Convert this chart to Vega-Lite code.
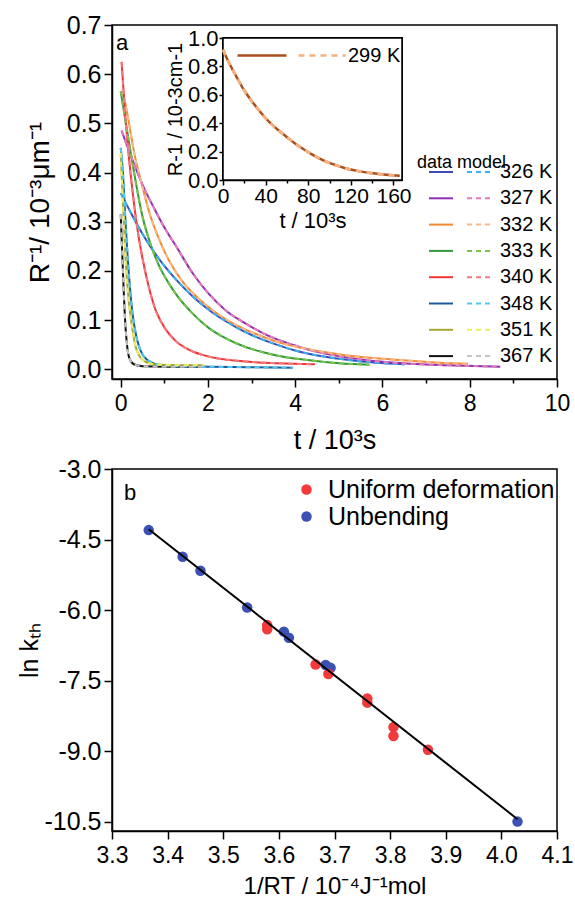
{
  "$schema": "https://vega.github.io/schema/vega-lite/v6.json",
  "background": "white",
  "padding": {"left": 16, "top": 12, "right": 0, "bottom": 0},
  "spacing": 2,
  "config": {
    "font": "Liberation Sans",
    "locale": {"number": {"decimal": ".", "thousands": ",", "grouping": [3], "currency": ["$", ""], "minus": "-"}},
    "view": {"stroke": "black", "strokeWidth": 1.5},
    "axis": {"domainColor": "black", "domainWidth": 1.5, "tickColor": "black", "tickWidth": 1.5, "labelColor": "black", "titleColor": "black", "labelFont": "Liberation Sans", "titleFont": "Liberation Sans", "titleFontWeight": "normal", "grid": false, "labelFontSize": 23, "titleFontSize": 26, "labelFlush": false, "labelOverlap": false},
    "legend": {"labelFont": "Liberation Sans", "titleFont": "Liberation Sans", "labelColor": "black", "titleColor": "black", "titleFontWeight": "normal", "padding": 0, "labelLimit": 400}
  },
  "datasets": {
    "curves": [
      {"T": "326 K", "t": 0, "v": 0.358}, {"T": "326 K", "t": 0.25, "v": 0.315}, {"T": "326 K", "t": 0.5, "v": 0.275}, {"T": "326 K", "t": 0.75, "v": 0.24}, {"T": "326 K", "t": 1.0, "v": 0.21}, {"T": "326 K", "t": 1.27, "v": 0.182}, {"T": "326 K", "t": 1.65, "v": 0.148}, {"T": "326 K", "t": 2.03, "v": 0.12}, {"T": "326 K", "t": 2.4, "v": 0.098}, {"T": "326 K", "t": 2.8, "v": 0.078}, {"T": "326 K", "t": 3.2, "v": 0.062}, {"T": "326 K", "t": 3.57, "v": 0.05}, {"T": "326 K", "t": 4.0, "v": 0.038}, {"T": "326 K", "t": 4.33, "v": 0.031}, {"T": "326 K", "t": 5.1, "v": 0.02}, {"T": "326 K", "t": 5.87, "v": 0.013}, {"T": "326 K", "t": 6.5, "v": 0.01},
      {"T": "327 K", "t": 0.02, "v": 0.485}, {"T": "327 K", "t": 0.25, "v": 0.43}, {"T": "327 K", "t": 0.5, "v": 0.375}, {"T": "327 K", "t": 0.75, "v": 0.33}, {"T": "327 K", "t": 1.0, "v": 0.288}, {"T": "327 K", "t": 1.27, "v": 0.25}, {"T": "327 K", "t": 1.65, "v": 0.195}, {"T": "327 K", "t": 2.03, "v": 0.152}, {"T": "327 K", "t": 2.4, "v": 0.12}, {"T": "327 K", "t": 2.8, "v": 0.096}, {"T": "327 K", "t": 3.2, "v": 0.076}, {"T": "327 K", "t": 3.57, "v": 0.061}, {"T": "327 K", "t": 4.0, "v": 0.048}, {"T": "327 K", "t": 4.33, "v": 0.039}, {"T": "327 K", "t": 5.1, "v": 0.025}, {"T": "327 K", "t": 5.87, "v": 0.016}, {"T": "327 K", "t": 6.63, "v": 0.011}, {"T": "327 K", "t": 7.5, "v": 0.008}, {"T": "327 K", "t": 8.7, "v": 0.005},
      {"T": "332 K", "t": 0.04, "v": 0.57}, {"T": "332 K", "t": 0.15, "v": 0.52}, {"T": "332 K", "t": 0.31, "v": 0.44}, {"T": "332 K", "t": 0.5, "v": 0.37}, {"T": "332 K", "t": 0.65, "v": 0.32}, {"T": "332 K", "t": 0.9, "v": 0.26}, {"T": "332 K", "t": 1.1, "v": 0.222}, {"T": "332 K", "t": 1.4, "v": 0.18}, {"T": "332 K", "t": 1.65, "v": 0.155}, {"T": "332 K", "t": 2.03, "v": 0.125}, {"T": "332 K", "t": 2.4, "v": 0.102}, {"T": "332 K", "t": 2.8, "v": 0.083}, {"T": "332 K", "t": 3.2, "v": 0.068}, {"T": "332 K", "t": 3.57, "v": 0.056}, {"T": "332 K", "t": 4.33, "v": 0.04}, {"T": "332 K", "t": 5.1, "v": 0.029}, {"T": "332 K", "t": 5.87, "v": 0.022}, {"T": "332 K", "t": 6.63, "v": 0.017}, {"T": "332 K", "t": 7.3, "v": 0.013}, {"T": "332 K", "t": 7.96, "v": 0.011},
      {"T": "333 K", "t": 0.0, "v": 0.565}, {"T": "333 K", "t": 0.1, "v": 0.51}, {"T": "333 K", "t": 0.23, "v": 0.44}, {"T": "333 K", "t": 0.5, "v": 0.31}, {"T": "333 K", "t": 0.7, "v": 0.25}, {"T": "333 K", "t": 0.88, "v": 0.21}, {"T": "333 K", "t": 1.1, "v": 0.175}, {"T": "333 K", "t": 1.27, "v": 0.152}, {"T": "333 K", "t": 1.65, "v": 0.113}, {"T": "333 K", "t": 2.03, "v": 0.083}, {"T": "333 K", "t": 2.4, "v": 0.063}, {"T": "333 K", "t": 2.8, "v": 0.047}, {"T": "333 K", "t": 3.2, "v": 0.036}, {"T": "333 K", "t": 3.57, "v": 0.028}, {"T": "333 K", "t": 4.33, "v": 0.018}, {"T": "333 K", "t": 5.0, "v": 0.012}, {"T": "333 K", "t": 5.7, "v": 0.009},
      {"T": "340 K", "t": 0.02, "v": 0.625}, {"T": "340 K", "t": 0.1, "v": 0.52}, {"T": "340 K", "t": 0.2, "v": 0.42}, {"T": "340 K", "t": 0.3, "v": 0.34}, {"T": "340 K", "t": 0.4, "v": 0.275}, {"T": "340 K", "t": 0.5, "v": 0.225}, {"T": "340 K", "t": 0.65, "v": 0.165}, {"T": "340 K", "t": 0.8, "v": 0.12}, {"T": "340 K", "t": 1.0, "v": 0.085}, {"T": "340 K", "t": 1.25, "v": 0.058}, {"T": "340 K", "t": 1.6, "v": 0.038}, {"T": "340 K", "t": 2.0, "v": 0.026}, {"T": "340 K", "t": 2.8, "v": 0.016}, {"T": "340 K", "t": 3.6, "v": 0.012}, {"T": "340 K", "t": 4.45, "v": 0.01},
      {"T": "348 K", "t": 0, "v": 0.45}, {"T": "348 K", "t": 0.05, "v": 0.4}, {"T": "348 K", "t": 0.11, "v": 0.3}, {"T": "348 K", "t": 0.19, "v": 0.19}, {"T": "348 K", "t": 0.27, "v": 0.114}, {"T": "348 K", "t": 0.35, "v": 0.07}, {"T": "348 K", "t": 0.42, "v": 0.046}, {"T": "348 K", "t": 0.5, "v": 0.03}, {"T": "348 K", "t": 0.57, "v": 0.022}, {"T": "348 K", "t": 0.7, "v": 0.014}, {"T": "348 K", "t": 0.88, "v": 0.009}, {"T": "348 K", "t": 1.3, "v": 0.006}, {"T": "348 K", "t": 2.0, "v": 0.005}, {"T": "348 K", "t": 3.0, "v": 0.004}, {"T": "348 K", "t": 3.95, "v": 0.003},
      {"T": "351 K", "t": 0, "v": 0.44}, {"T": "351 K", "t": 0.03, "v": 0.38}, {"T": "351 K", "t": 0.07, "v": 0.3}, {"T": "351 K", "t": 0.12, "v": 0.21}, {"T": "351 K", "t": 0.19, "v": 0.134}, {"T": "351 K", "t": 0.27, "v": 0.08}, {"T": "351 K", "t": 0.34, "v": 0.046}, {"T": "351 K", "t": 0.42, "v": 0.028}, {"T": "351 K", "t": 0.5, "v": 0.019}, {"T": "351 K", "t": 0.65, "v": 0.012}, {"T": "351 K", "t": 0.9, "v": 0.009}, {"T": "351 K", "t": 1.3, "v": 0.008}, {"T": "351 K", "t": 1.9, "v": 0.008},
      {"T": "367 K", "t": 0, "v": 0.315}, {"T": "367 K", "t": 0.05, "v": 0.2}, {"T": "367 K", "t": 0.1, "v": 0.1}, {"T": "367 K", "t": 0.15, "v": 0.045}, {"T": "367 K", "t": 0.2, "v": 0.022}, {"T": "367 K", "t": 0.3, "v": 0.01}, {"T": "367 K", "t": 0.5, "v": 0.006}, {"T": "367 K", "t": 1.0, "v": 0.005}, {"T": "367 K", "t": 1.87, "v": 0.005}
    ],
    "inset": [
      {"T": "299 K", "t": 0, "v": 0.918}, {"T": "299 K", "t": 6, "v": 0.82}, {"T": "299 K", "t": 12.4, "v": 0.73}, {"T": "299 K", "t": 20, "v": 0.63}, {"T": "299 K", "t": 28, "v": 0.545}, {"T": "299 K", "t": 36, "v": 0.47}, {"T": "299 K", "t": 43.8, "v": 0.405}, {"T": "299 K", "t": 52, "v": 0.35}, {"T": "299 K", "t": 59.5, "v": 0.305}, {"T": "299 K", "t": 67, "v": 0.26}, {"T": "299 K", "t": 75, "v": 0.22}, {"T": "299 K", "t": 83, "v": 0.182}, {"T": "299 K", "t": 90.8, "v": 0.151}, {"T": "299 K", "t": 98, "v": 0.126}, {"T": "299 K", "t": 106.5, "v": 0.103}, {"T": "299 K", "t": 114, "v": 0.085}, {"T": "299 K", "t": 122, "v": 0.07}, {"T": "299 K", "t": 130, "v": 0.059}, {"T": "299 K", "t": 138, "v": 0.05}, {"T": "299 K", "t": 146, "v": 0.043}, {"T": "299 K", "t": 153.6, "v": 0.037}, {"T": "299 K", "t": 166, "v": 0.03}
    ],
    "pts": [
      {"kind": "Unbending", "x": 3.366, "y": -4.3}, {"kind": "Unbending", "x": 3.427, "y": -4.867}, {"kind": "Unbending", "x": 3.459, "y": -5.165}, {"kind": "Unbending", "x": 3.543, "y": -5.946}, {"kind": "Unbending", "x": 3.609, "y": -6.46}, {"kind": "Unbending", "x": 3.618, "y": -6.59}, {"kind": "Unbending", "x": 3.684, "y": -7.17}, {"kind": "Unbending", "x": 3.693, "y": -7.23}, {"kind": "Unbending", "x": 4.029, "y": -10.5},
      {"kind": "Uniform deformation", "x": 3.579, "y": -6.32}, {"kind": "Uniform deformation", "x": 3.579, "y": -6.41}, {"kind": "Uniform deformation", "x": 3.666, "y": -7.16}, {"kind": "Uniform deformation", "x": 3.689, "y": -7.36}, {"kind": "Uniform deformation", "x": 3.759, "y": -7.88}, {"kind": "Uniform deformation", "x": 3.759, "y": -7.97}, {"kind": "Uniform deformation", "x": 3.806, "y": -8.49}, {"kind": "Uniform deformation", "x": 3.806, "y": -8.68}, {"kind": "Uniform deformation", "x": 3.868, "y": -8.97}
    ],
    "fit": [{"x": 3.366, "y": -4.28}, {"x": 4.029, "y": -10.45}]
  },
  "vconcat": [
    {
      "width": 445,
      "height": 354,
      "title": {"text": "a", "anchor": "start", "frame": "group", "orient": "top", "offset": -42, "dx": 4, "fontSize": 22, "fontWeight": "normal", "font": "Liberation Sans", "color": "black"},
      "layer": [
        {
          "data": {"name": "curves"},
          "layer": [
            {
              "mark": {"type": "line", "strokeWidth": 2, "interpolate": "monotone"},
              "encoding": {
                "x": {"field": "t", "type": "quantitative", "scale": {"domain": [-0.2, 10], "nice": false, "zero": false},
                  "axis": {"values": [0, 1, 2, 3, 4, 5, 6, 7, 8, 9, 10], "labelExpr": "datum.value % 2 === 0 ? datum.label : ''", "tickSize": {"condition": {"test": "datum.value % 2 === 0", "value": 8}, "value": 4}, "labelPadding": 5, "title": "t / 10³s", "titleFontSize": 27, "titlePadding": 12}},
                "y": {"field": "v", "type": "quantitative", "scale": {"domain": [-0.02, 0.7], "nice": false, "zero": false},
                  "axis": {"values": [0, 0.05, 0.1, 0.15, 0.2, 0.25, 0.3, 0.35, 0.4, 0.45, 0.5, 0.55, 0.6, 0.65, 0.7], "labelExpr": "round(datum.value*100) % 10 === 0 ? format(datum.value, '.1f') : ''", "tickSize": {"condition": {"test": "round(datum.value*100) % 10 === 0", "value": 8}, "value": 4}, "labelPadding": 3, "labelFontSize": 25, "title": "R⁻¹/ 10⁻³μm⁻¹", "titleFontSize": 28, "titlePadding": 12}},
                "color": {"field": "T", "type": "nominal",
                  "scale": {"range": ["#3b4cb8", "#8e30b2", "#f28a2e", "#2e9a3c", "#f03535", "#1f5a98", "#a8a832", "#111111"]},
                  "legend": {"orient": "none", "legendX": 305, "legendY": 129, "title": "data model", "titleFontSize": 18, "titlePadding": -13, "titleLimit": 200, "labelExpr": "''", "symbolType": "stroke", "symbolSize": 576, "symbolStrokeWidth": 2, "symbolOffset": 11, "rowPadding": 3.3, "labelFontSize": 20, "labelOffset": 0}}
              }
            },
            {
              "mark": {"type": "line", "strokeWidth": 2, "strokeDash": [5, 4], "interpolate": "monotone"},
              "encoding": {
                "x": {"field": "t", "type": "quantitative"},
                "y": {"field": "v", "type": "quantitative"},
                "stroke": {"field": "T", "type": "nominal",
                  "scale": {"domain": ["326 K", "327 K", "332 K", "333 K", "340 K", "348 K", "351 K", "367 K"], "range": ["#3db2ea", "#e27cba", "#f6b98c", "#7cc24c", "#f27a84", "#52c8f0", "#eeee5e", "#c4c4c4"]},
                  "legend": {"orient": "none", "legendX": 354, "legendY": 134, "title": null, "symbolType": "stroke", "symbolSize": 576, "symbolStrokeWidth": 2, "symbolDash": [5, 4], "rowPadding": 3.3, "labelFontSize": 20, "labelOffset": 8}}
              }
            }
          ]
        },
        {
          "data": {"name": "inset"},
          "layer": [
            {
              "mark": {"type": "rect", "fill": "white", "stroke": "black", "strokeWidth": 1.5},
              "encoding": {
                "x": {"datum": 0, "type": "quantitative", "scale": {"domain": [0, 168], "range": [111, 290], "nice": false, "zero": false},
                  "axis": {"orient": "bottom", "offset": -199, "values": [0, 20, 40, 60, 80, 100, 120, 140, 160], "labelExpr": "datum.value % 40 === 0 ? datum.label : ''", "tickSize": {"condition": {"test": "datum.value % 40 === 0", "value": 5}, "value": 3}, "labelFontSize": 21, "labelPadding": 0, "title": "t / 10³s", "titleFontSize": 22, "titlePadding": 4}},
                "x2": {"datum": 168},
                "y": {"datum": 0, "type": "quantitative", "scale": {"domain": [0, 1], "range": [155, 13], "nice": false, "zero": false},
                  "axis": {"orient": "left", "offset": -111, "values": [0, 0.1, 0.2, 0.3, 0.4, 0.5, 0.6, 0.7, 0.8, 0.9, 1.0], "labelExpr": "round(datum.value*10) % 2 === 0 ? format(datum.value, '.1f') : ''", "tickSize": {"condition": {"test": "round(datum.value*10) % 2 === 0", "value": 4}, "value": 2}, "labelFontSize": 22, "labelPadding": 1, "title": "R-1 / 10-3cm-1", "titleFontSize": 20, "titlePadding": 2}},
                "y2": {"datum": 1}
              }
            },
            {
              "mark": {"type": "line", "strokeWidth": 2.5, "interpolate": "monotone"},
              "encoding": {
                "x": {"field": "t", "type": "quantitative"},
                "y": {"field": "v", "type": "quantitative"},
                "color": {"field": "T", "type": "nominal", "scale": {"range": ["#a8501e"]},
                  "legend": {"orient": "none", "legendX": 124, "legendY": 4.5, "title": null, "labelExpr": "''", "symbolType": "stroke", "symbolSize": 2401, "symbolStrokeWidth": 2.5, "labelOffset": 0, "labelFontSize": 20}}
              }
            },
            {
              "mark": {"type": "line", "strokeWidth": 3, "strokeDash": [6, 5], "interpolate": "monotone"},
              "encoding": {
                "x": {"field": "t", "type": "quantitative"},
                "y": {"field": "v", "type": "quantitative"},
                "stroke": {"field": "T", "type": "nominal", "scale": {"domain": ["299 K"], "range": ["#f5b07e"]},
                  "legend": {"orient": "none", "legendX": 185, "legendY": 5.5, "title": null, "symbolType": "stroke", "symbolSize": 2209, "symbolStrokeWidth": 2.5, "symbolDash": [6, 5], "labelOffset": 1, "labelFontSize": 20}}
              }
            }
          ]
        }
      ],
      "resolve": {"scale": {"x": "independent", "y": "independent", "color": "independent", "stroke": "independent"}, "axis": {"x": "independent", "y": "independent"}}
    },
    {
      "width": 445,
      "height": 362,
      "title": {"text": "b", "anchor": "start", "frame": "group", "orient": "top", "offset": -48, "dx": 12, "fontSize": 22, "fontWeight": "normal", "font": "Liberation Sans", "color": "black"},
      "layer": [
        {
          "data": {"name": "pts"},
          "mark": {"type": "circle", "size": 110, "opacity": 1},
          "encoding": {
            "x": {"field": "x", "type": "quantitative", "scale": {"domain": [3.3, 4.1], "nice": false, "zero": false},
              "axis": {"values": [3.3, 3.35, 3.4, 3.45, 3.5, 3.55, 3.6, 3.65, 3.7, 3.75, 3.8, 3.85, 3.9, 3.95, 4.0, 4.05, 4.1], "labelExpr": "round(datum.value*100) % 10 === 0 ? format(datum.value, '.1f') : ''", "tickSize": {"condition": {"test": "round(datum.value*100) % 10 === 0", "value": 8}, "value": 4}, "labelPadding": 5, "title": "1/RT / 10⁻⁴J⁻¹mol", "titleFontSize": 24, "titlePadding": 7}},
            "y": {"field": "y", "type": "quantitative", "scale": {"domain": [-10.7, -3.0], "nice": false, "zero": false},
              "axis": {"values": [-3, -3.75, -4.5, -5.25, -6, -6.75, -7.5, -8.25, -9, -9.75, -10.5], "labelExpr": "round(datum.value*100) % 150 === 0 ? format(datum.value, '.1f') : ''", "tickSize": {"condition": {"test": "round(datum.value*100) % 150 === 0", "value": 8}, "value": 4}, "labelPadding": 3, "labelFontSize": 25, "title": "ln kₜₕ", "titleFontSize": 25, "titlePadding": 2}},
            "color": {"field": "kind", "type": "nominal", "scale": {"domain": ["Uniform deformation", "Unbending"], "range": ["#f23a3a", "#3b51b4"]},
              "legend": {"orient": "none", "legendX": 182, "legendY": 452, "title": null, "symbolType": "circle", "symbolSize": 110, "symbolStrokeWidth": 0, "labelFontSize": 25, "labelOffset": 9, "rowPadding": 1}}
          }
        },
        {
          "data": {"name": "fit"},
          "mark": {"type": "line", "color": "black", "strokeWidth": 2},
          "encoding": {
            "x": {"field": "x", "type": "quantitative"},
            "y": {"field": "y", "type": "quantitative"}
          }
        }
      ]
    }
  ]
}
